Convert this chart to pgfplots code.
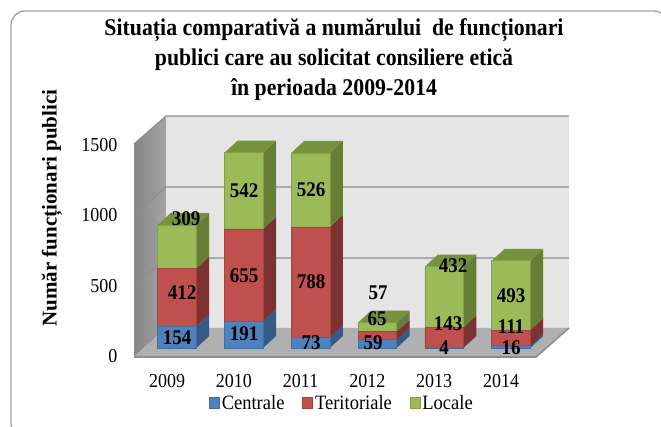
\documentclass[border=0pt]{standalone}
\usepackage{pgfplots}
\pgfplotsset{compat=1.18}
\usepackage{fontspec}
\setmainfont{Liberation Serif}
\definecolor{cB}{HTML}{4F81BD}\definecolor{cR}{HTML}{C0504D}\definecolor{cG}{HTML}{9BBB59}
\definecolor{sB}{HTML}{345A85}\definecolor{sR}{HTML}{7C3230}\definecolor{sG}{HTML}{667E36}
\definecolor{tG}{HTML}{76923C}
\definecolor{gridc}{HTML}{8E8E8E}
\newcommand\tall[1]{\scalebox{1}[1.1]{#1}}
\pgfplotsset{
  base/.style={at={(0pt,0pt)},anchor=south west,scale only axis,width=661pt,height=427pt,
    axis line style={draw=none},tick style={draw=none},xtick=\empty,ytick=\empty,clip=true},
  data/.style={base,xmin=-2.6497,xmax=7.2455,ymin=-561.5,ymax=2473.3},
  px/.style={base,xmin=0,xmax=661,ymin=0,ymax=427,y dir=reverse}
}
\def\hw{0.288}\def\dxx{0.1946}\def\dyy{85.3}
\newcommand\seg[4]{%
  \pgfmathsetmacro\xa{#1+\hw}\pgfmathsetmacro\xb{\xa+\dxx}%
  \pgfmathsetmacro\ya{#2+\dyy}\pgfmathsetmacro\yb{#3+\dyy}%
  \addplot[fill=#4,draw=none] coordinates {(\xa,#2)(\xb,\ya)(\xb,\yb)(\xa,#3)};}
\newcommand\topf[2]{%
  \pgfmathsetmacro\xl{#1-\hw}\pgfmathsetmacro\xa{#1+\hw}\pgfmathsetmacro\xb{\xa+\dxx}%
  \pgfmathsetmacro\xc{\xl+\dxx}\pgfmathsetmacro\yb{#2+\dyy}%
  \addplot[fill=tG,draw=none] coordinates {(\xl,#2)(\xc,\yb)(\xb,\yb)(\xa,#2)};}
\newcommand\barside[4]{\seg{#1}{0}{#2}{sB}\seg{#1}{#2}{#3}{sR}\seg{#1}{#3}{#4}{sG}\topf{#1}{#4}}
\newcommand\lab[3]{\node[font=\fontsize{19}{19}\selectfont\bfseries] at (#1pt,{(427-#2)*1pt}) {\tall{#3}};}
\begin{document}
\begin{tikzpicture}
\useasboundingbox (0pt,0pt) rectangle (661pt,427pt);
\begin{scope}
\clip (0pt,0pt) rectangle (661pt,427pt);
\draw[color=gridc!85,line width=1.3pt,rounded corners=14pt] (11pt,-10pt) rectangle (668pt,416pt);
\end{scope}
% walls and floor, in pixels
\begin{axis}[px]
\addplot[draw=none,left color=gray!95,right color=gray!72] coordinates {(134,144)(166,116)(166,328)(134,357)};
\addplot[fill=black!10,draw=none] coordinates {(166,116)(569,116)(569,328)(166,328)};
\addplot[fill=black!31,draw=none] coordinates {(134,357)(166,328)(569,328)(536,357)};
\addplot[color=gridc,line width=1.2pt] coordinates {(134,144)(166,116)(569,116)};
\addplot[color=gridc,line width=1.2pt] coordinates {(134,215)(166,187)(569,187)};
\addplot[color=gridc,line width=1.2pt] coordinates {(134,286)(166,258)(569,258)};
\addplot[color=gridc,line width=1.6pt] coordinates {(134,357)(536,357)(569,328)};
\end{axis}
% depth faces of the bars
\begin{axis}[data]
\barside{0}{154}{566}{875}
\barside{1}{191}{846}{1388}
\barside{2}{73}{861}{1387}
\barside{3}{59}{116}{181}
\barside{4}{4}{147}{579}
\barside{5}{16}{127}{620}
\end{axis}
% front faces, ticks and legend
\begin{axis}[data,
  ybar stacked,bar width=38.5pt,
  xtick={0,1,2,3,4,5},xticklabels={\tall{2009},\tall{2010},\tall{2011},\tall{2012},\tall{2013},\tall{2014}},
  xticklabel style={font=\fontsize{18}{18}\selectfont,anchor=center,xshift=-10pt,yshift=46pt},
  ytick={0,500,1000,1500},
  /pgf/number format/assume math mode=true,
  /pgf/number format/1000 sep={},
  yticklabel={\tall{\pgfmathprintnumber{\tick}}},
  yticklabel style={font=\fontsize{18}{18}\selectfont,anchor=east,xshift=121pt,yshift=-8pt},
  legend columns=3,
  legend style={at={(0,0)},anchor=south west,xshift=209pt,yshift=14pt,draw=none,fill=none,
    font=\fontsize{18.5}{18.5}\selectfont,inner sep=0pt,
    /tikz/every even column/.style={column sep=16pt}},
  legend image code/.code={\draw[#1,draw opacity=1] (0pt,-5pt) rectangle (10pt,6pt);},
]
\addplot[fill=cB,draw=cB!85!black,line width=.6pt] coordinates {(0,154)(1,191)(2,73)(3,59)(4,4)(5,16)};
\addplot[fill=cR,draw=cR!85!black,line width=.6pt] coordinates {(0,412)(1,655)(2,788)(3,57)(4,143)(5,111)};
\addplot[fill=cG,draw=cG!85!black,line width=.6pt] coordinates {(0,309)(1,542)(2,526)(3,65)(4,432)(5,493)};
\legend{\tall{Centrale},\tall{Teritoriale},\tall{Locale}}
\end{axis}
\lab{177}{338}{154}\lab{182}{293}{412}\lab{186}{219}{309}
\lab{244}{334}{191}\lab{244}{276}{655}\lab{244}{191}{542}
\lab{311}{343}{73}\lab{311}{282}{788}\lab{311}{190}{526}
\lab{373}{343}{59}\lab{378}{293}{57}\lab{377}{319}{65}
\lab{444}{348}{4}\lab{448}{324}{143}\lab{453}{266}{432}
\lab{511}{348}{16}\lab{511}{327}{111}\lab{511}{296}{493}
\node[font=\fontsize{21.8}{30}\selectfont\bfseries,align=center] at (334pt,397pt) {\tall{Situația comparativă a numărului\ \ de funcționari}};
\node[font=\fontsize{21.8}{30}\selectfont\bfseries,align=center] at (334pt,367pt) {\tall{publici care au solicitat consiliere etică}};
\node[font=\fontsize{21.8}{30}\selectfont\bfseries,align=center] at (334pt,337pt) {\tall{în perioada 2009-2014}};
\node[font=\fontsize{21}{21}\selectfont\bfseries,rotate=90] at (52pt,219pt) {Număr funcționari publici};
\end{tikzpicture}
\end{document}
